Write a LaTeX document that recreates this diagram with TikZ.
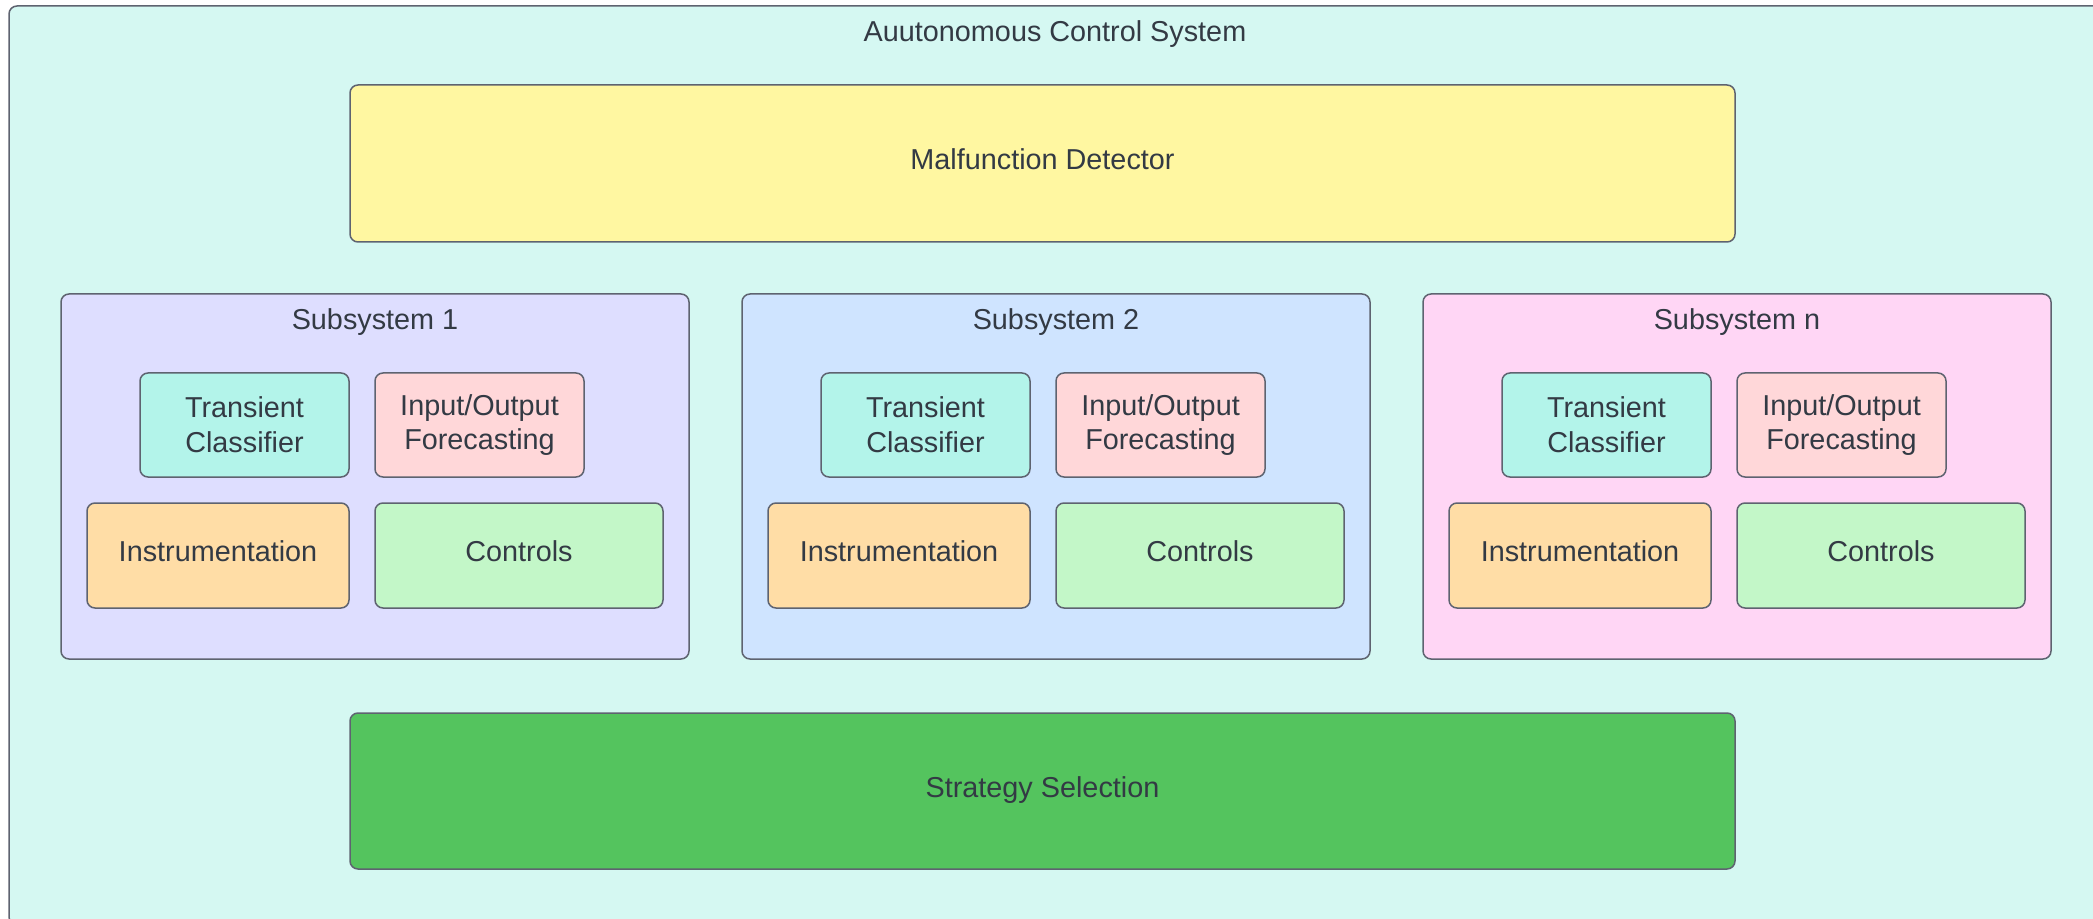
\documentclass[tikz,border=0pt]{standalone}
\usepackage{fontspec}
\setmainfont{Liberation Sans}

\definecolor{edge}{HTML}{5E6370}
\definecolor{ink}{HTML}{333A44}
\definecolor{outerfill}{HTML}{D5F8F2}
\definecolor{detectfill}{HTML}{FFF7A1}
\definecolor{ssone}{HTML}{DEDEFF}
\definecolor{sstwo}{HTML}{CFE4FF}
\definecolor{ssn}{HTML}{FFD6F5}
\definecolor{transfill}{HTML}{B3F4EA}
\definecolor{iofill}{HTML}{FFD7D9}
\definecolor{instrfill}{HTML}{FFDDA6}
\definecolor{ctrlfill}{HTML}{C3F7C8}
\definecolor{stratfill}{HTML}{54C45E}

% box given by its corners (in px units), with a name, a style and a text
\newcommand\placebox[7]{%
  \pgfmathsetmacro\cx{((#3)+(#5))/2}\pgfmathsetmacro\cy{((#4)+(#6))/2}%
  \pgfmathsetmacro\bw{((#5)-(#3))*0.5}\pgfmathsetmacro\bh{((#6)-(#4))*0.5}%
  \node[#2, minimum width=\bw pt, minimum height=\bh pt] (#1) at (\cx,\cy) {#7};}

\begin{document}
\begin{tikzpicture}[x=0.5pt, y=-0.5pt,
  box/.style={draw=edge, line width=0.75pt, rounded corners=4pt, inner sep=0pt,
    text=ink, align=center, font=\fontsize{14.4}{17.3}\selectfont},
  oneline/.style={box, text height=10.4pt, text depth=4pt},
  caption/.style={text=ink, inner sep=0pt, font=\fontsize{14.4}{17.3}\selectfont}]
\useasboundingbox (0,0) rectangle (2093,919);
\clip (0,0) rectangle (2093,919);

% enclosing system
\placebox{system}{box, fill=outerfill}{9}{6}{2110}{925}{}
\node[caption] (systemtitle) at (1055,34) {Auutonomous Control System};

% detector and strategy bars
\placebox{detector}{oneline, fill=detectfill}{350}{85}{1735}{242}{Malfunction Detector}
\placebox{strategy}{oneline, fill=stratfill}{350}{713}{1735}{869}{Strategy Selection}

% subsystems
\foreach \L/\n/\c in {61/1/ssone, 742/2/sstwo, 1423/n/ssn}{
  \placebox{ss\n}{box, fill=\c}{\L}{294}{\L+628}{659}{}
  \node[caption] (sstitle\n) at (\L+314,322) {Subsystem \n};
  \placebox{tc\n}{box, fill=transfill}{\L+79}{373}{\L+288}{477}{Transient\\Classifier}
  \placebox{io\n}{box, fill=iofill}{\L+314}{373}{\L+523}{477}{Input/Output\\Forecasting}
  \placebox{in\n}{oneline, fill=instrfill}{\L+26}{503}{\L+288}{608}{Instrumentation}
  \placebox{ct\n}{oneline, fill=ctrlfill}{\L+314}{503}{\L+602}{608}{Controls}
}
\end{tikzpicture}
\end{document}
